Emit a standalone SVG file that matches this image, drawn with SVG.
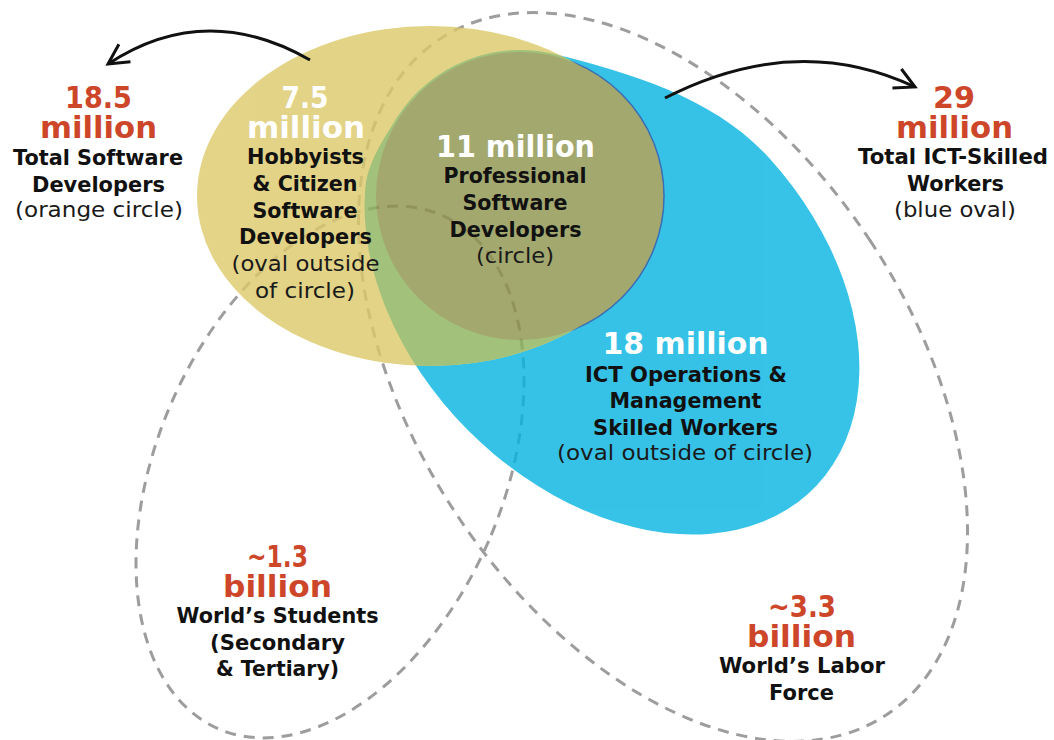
<svg xmlns="http://www.w3.org/2000/svg" width="1054" height="740" viewBox="0 0 1054 740">
<defs>
<style>
.b{font-family:"DejaVu Sans","Liberation Sans",sans-serif;font-weight:bold;text-anchor:middle}
.n{font-family:"DejaVu Sans","Liberation Sans",sans-serif;font-weight:normal;text-anchor:middle;fill:#1a1a1a;font-size:21px}
.big{font-size:31px}
.mid{font-size:20.5px;fill:#111}
.red{fill:#CD4629}
.wh{fill:#ffffff}
.dash{fill:none;stroke:#9d9d9d;stroke-width:3;stroke-dasharray:11 8}
.arrow{fill:none;stroke:#111;stroke-width:3;marker-end:url(#ah)}
</style>
<path id="bluePath" d="M769.4,158.2 A285,203 45 1 1 365.3,188.3 C367.5,162.4 383.8,138.8 397.6,116.5 A146,146 0 0 1 555.3,54.3 C632.9,73.7 715.7,98.8 769.4,158.2 Z"/>
<clipPath id="clipOrange"><ellipse cx="430" cy="196" rx="233" ry="170"/></clipPath>
<mask id="blueOnly" maskUnits="userSpaceOnUse" x="0" y="0" width="1054" height="740">
<rect x="0" y="0" width="1054" height="740" fill="#000"/>
<use href="#bluePath" fill="#fff"/>
<ellipse cx="430" cy="196" rx="233" ry="170" fill="#000"/>
</mask>
<marker id="ah" viewBox="-24 -14 28 28" markerWidth="28" markerHeight="28" refX="0" refY="0" orient="auto" markerUnits="userSpaceOnUse">
<path d="M-20,-10.5 L0,0 L-20,10.5" fill="none" stroke="#111" stroke-width="3"/>
</marker>
</defs>
<rect x="0" y="0" width="1054" height="740" fill="#ffffff"/>

<g id="world-ovals">
<ellipse id="students-oval" class="dash" cx="330" cy="472" rx="173" ry="280" transform="rotate(23.5 330 472)"/>
<ellipse id="labor-oval" class="dash" cx="663" cy="377" rx="248" ry="405" transform="rotate(-33.5 663 377)"/>
</g>

<g id="colored-shapes" opacity="0.8">
<use id="blue-oval" href="#bluePath" fill="#05B4E1"/>
<ellipse id="orange-oval" cx="430" cy="196" rx="233" ry="170" fill="#DCC969"/>
<g clip-path="url(#clipOrange)">
<use href="#bluePath" fill="#8BB35B"/>
</g>
<circle id="pro-circle" cx="520" cy="196" r="144" fill="#8D934C"/>
</g>
<circle cx="520" cy="196" r="144" fill="none" stroke="#3b6db3" stroke-width="1.5" mask="url(#blueOnly)"/>

<g id="connectors">
<path id="arrow-left" class="arrow" d="M310,60 Q205,0 108,64"/>
<path id="arrow-right" class="arrow" d="M665,98 Q796,31 915,87"/>
</g>

<g id="node-total-software">
<text class="b big red" x="98.5" y="108" textLength="67" lengthAdjust="spacingAndGlyphs">18.5</text>
<text class="b big red" x="98.5" y="138" textLength="117" lengthAdjust="spacingAndGlyphs">million</text>
<text class="b mid" x="98" y="165" textLength="170" lengthAdjust="spacingAndGlyphs">Total Software</text>
<text class="b mid" x="98.5" y="192" textLength="133" lengthAdjust="spacingAndGlyphs">Developers</text>
<text class="n" x="99" y="217" textLength="168" lengthAdjust="spacingAndGlyphs">(orange circle)</text>
</g>

<g id="node-hobbyists">
<text class="b big wh" x="305" y="108" textLength="47" lengthAdjust="spacingAndGlyphs">7.5</text>
<text class="b big wh" x="306" y="138" textLength="118" lengthAdjust="spacingAndGlyphs">million</text>
<text class="b mid" x="305.5" y="164" textLength="117" lengthAdjust="spacingAndGlyphs">Hobbyists</text>
<text class="b mid" x="305" y="191" textLength="105" lengthAdjust="spacingAndGlyphs">&amp; Citizen</text>
<text class="b mid" x="305" y="218" textLength="105" lengthAdjust="spacingAndGlyphs">Software</text>
<text class="b mid" x="305.5" y="244" textLength="133" lengthAdjust="spacingAndGlyphs">Developers</text>
<text class="n" x="305.5" y="271" textLength="148" lengthAdjust="spacingAndGlyphs">(oval outside</text>
<text class="n" x="305" y="298" textLength="100" lengthAdjust="spacingAndGlyphs">of circle)</text>
</g>

<g id="node-professional">
<text class="b big wh" x="515.5" y="157" textLength="159" lengthAdjust="spacingAndGlyphs">11 million</text>
<text class="b mid" x="515" y="183" textLength="143" lengthAdjust="spacingAndGlyphs">Professional</text>
<text class="b mid" x="515" y="210" textLength="105" lengthAdjust="spacingAndGlyphs">Software</text>
<text class="b mid" x="515.5" y="237" textLength="132" lengthAdjust="spacingAndGlyphs">Developers</text>
<text class="n" x="515" y="263" textLength="78" lengthAdjust="spacingAndGlyphs">(circle)</text>
</g>

<g id="node-total-ict">
<text class="b big red" x="954" y="108" textLength="42" lengthAdjust="spacingAndGlyphs">29</text>
<text class="b big red" x="954.5" y="138" textLength="117" lengthAdjust="spacingAndGlyphs">million</text>
<text class="b mid" x="953" y="164" textLength="190" lengthAdjust="spacingAndGlyphs">Total ICT-Skilled</text>
<text class="b mid" x="955.5" y="191" textLength="97" lengthAdjust="spacingAndGlyphs">Workers</text>
<text class="n" x="955" y="217" textLength="122" lengthAdjust="spacingAndGlyphs">(blue oval)</text>
</g>

<g id="node-ict-operations">
<text class="b big wh" x="685.5" y="354" textLength="166" lengthAdjust="spacingAndGlyphs">18 million</text>
<text class="b mid" x="686" y="382" textLength="202" lengthAdjust="spacingAndGlyphs">ICT Operations &amp;</text>
<text class="b mid" x="685.5" y="408" textLength="152" lengthAdjust="spacingAndGlyphs">Management</text>
<text class="b mid" x="685.5" y="435" textLength="185" lengthAdjust="spacingAndGlyphs">Skilled Workers</text>
<text class="n" x="685" y="460" textLength="256" lengthAdjust="spacingAndGlyphs">(oval outside of circle)</text>
</g>

<g id="node-students">
<text class="b big red" x="277.5" y="567" textLength="61" lengthAdjust="spacingAndGlyphs">~1.3</text>
<text class="b big red" x="277.5" y="597" textLength="109" lengthAdjust="spacingAndGlyphs">billion</text>
<text class="b mid" x="277.5" y="623" textLength="202" lengthAdjust="spacingAndGlyphs">World’s Students</text>
<text class="b mid" x="277.5" y="650" textLength="135" lengthAdjust="spacingAndGlyphs">(Secondary</text>
<text class="b mid" x="277.5" y="676" textLength="123" lengthAdjust="spacingAndGlyphs">&amp; Tertiary)</text>
</g>

<g id="node-labor">
<text class="b big red" x="802" y="617" textLength="68" lengthAdjust="spacingAndGlyphs">~3.3</text>
<text class="b big red" x="801.5" y="647" textLength="109" lengthAdjust="spacingAndGlyphs">billion</text>
<text class="b mid" x="802" y="673" textLength="166" lengthAdjust="spacingAndGlyphs">World’s Labor</text>
<text class="b mid" x="801.5" y="700" textLength="65" lengthAdjust="spacingAndGlyphs">Force</text>
</g>
</svg>
